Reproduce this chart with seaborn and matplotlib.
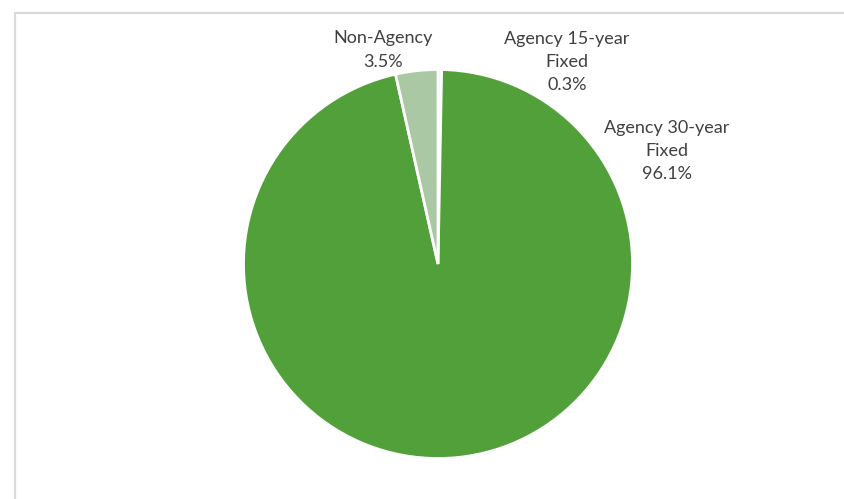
import matplotlib
matplotlib.use("Agg")
import matplotlib.pyplot as plt
import seaborn as sns

labels = ["Agency 15-year\nFixed", "Agency 30-year\nFixed", "Non-Agency"]
values = [0.3, 96.1, 3.5]
colors = ["#E4EEDD", "#52A03A", "#ABC8A5"]

sns.set_theme(style="white")
plt.rcParams['font.family'] = ['Lato', 'DejaVu Sans']

W, H = 844, 499
fig = plt.figure(figsize=(W / 100, H / 100), dpi=100)
ax = fig.add_axes([0, 0, 1, 1])
ax.set_xlim(0, W)
ax.set_ylim(0, H)
ax.set_aspect('equal')
ax.axis('off')

cx, cy, r = 438, H - 264, 194.5
wedges, _ = ax.pie(values, colors=colors, startangle=90, counterclock=False,
                   center=(cx, cy), radius=r, normalize=True,
                   wedgeprops=dict(edgecolor="white", linewidth=2))
ax.set_xlim(0, W)
ax.set_ylim(0, H)

label_pos = [(567, 62), (667, 151), (383, 50)]
for lab, v, (x, y) in zip(labels, values, label_pos):
    ax.text(x, H - y, f"{lab}\n{v:.1f}%", ha="center", va="center",
            fontsize=13, color="#404040", linespacing=1.55)

# chart frame
ax.plot([15, 15], [H - 12, -5], color="#D9D9D9", lw=1.6, clip_on=False, solid_capstyle="butt")
ax.plot([14.2, W + 5], [H - 12.5, H - 12.5], color="#D9D9D9", lw=1.6, clip_on=False, solid_capstyle="butt")

fig.savefig("out.png", dpi=100)
